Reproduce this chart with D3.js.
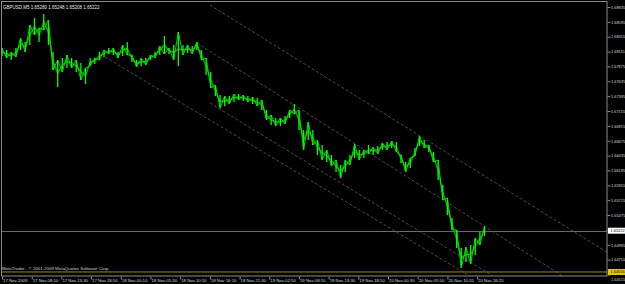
<!DOCTYPE html>
<html>
<head>
<meta charset="utf-8">
<script src="https://cdn.jsdelivr.net/npm/d3@7"></script>
<style>
body { margin: 0; background: #000; overflow: hidden; }
text { font-family: "Liberation Sans", Arial, sans-serif; }
</style>
</head>
<body>
<div id="chart"></div>
<script>
// header + footer text
var symbolLabel = "GBPUSD,M5  1.65280 1.65248 1.65208 1.65222";
var copyLabel = "MetaTrader - \u00a9 2001-2009 MetaQuotes Software Corp.";

// one sample every 10 bars (M5), high / low
var barStep = 10;
var highs = [1.68173,1.68141,1.68108,1.68173,1.68334,1.68270,1.68544,1.68657,1.68496,1.68722,
    1.68625,1.68108,1.67979,1.68011,1.68060,1.68011,1.67979,1.67931,1.67850,1.68011,
    1.68011,1.68108,1.68141,1.68173,1.68173,1.68108,1.68221,1.68270,1.68060,1.67979,
    1.68011,1.68011,1.68060,1.68108,1.68205,1.68367,1.68173,1.68221,1.68431,1.68221,
    1.68221,1.68205,1.68270,1.68141,1.68011,1.67785,1.67575,1.67414,1.67398,1.67398,
    1.67430,1.67430,1.67414,1.67398,1.67381,1.67365,1.67333,1.67172,1.67091,1.67042,
    1.67042,1.67075,1.67172,1.67268,1.67172,1.66849,1.66978,1.66849,1.66687,1.66606,
    1.66526,1.66445,1.66364,1.66283,1.66364,1.66445,1.66622,1.66526,1.66526,1.66606,
    1.66574,1.66590,1.66639,1.66655,1.66671,1.66655,1.66445,1.66332,1.66396,1.66558,
    1.66752,1.66687,1.66606,1.66493,1.66364,1.65960,1.65750,1.65427,1.65234,1.64943,
    1.64959,1.64991,1.65104,1.65201,1.65298];
var lows = [1.68044,1.68011,1.67979,1.68027,1.68141,1.68108,1.68221,1.68383,1.68270,1.68464,
    1.68221,1.67818,1.67543,1.67785,1.67850,1.67850,1.67785,1.67656,1.67591,1.67882,
    1.67914,1.67979,1.68027,1.68076,1.68060,1.68011,1.68044,1.68060,1.67947,1.67866,
    1.67882,1.67898,1.67979,1.68011,1.68060,1.68076,1.68076,1.67979,1.67882,1.68060,
    1.68092,1.68076,1.68141,1.67979,1.67737,1.67527,1.67398,1.67204,1.67236,1.67268,
    1.67301,1.67333,1.67317,1.67301,1.67268,1.67236,1.67172,1.67010,1.66929,1.66913,
    1.66913,1.66945,1.67042,1.67107,1.66849,1.66526,1.66687,1.66606,1.66445,1.66364,
    1.66332,1.66267,1.66170,1.66073,1.66170,1.66283,1.66396,1.66364,1.66396,1.66461,
    1.66445,1.66461,1.66526,1.66526,1.66558,1.66493,1.66316,1.66170,1.66235,1.66429,
    1.66590,1.66558,1.66493,1.66332,1.66041,1.65718,1.65476,1.65234,1.64943,1.64620,
    1.64717,1.64684,1.64830,1.64991,1.65137];

var priceTicks = [1.68835,1.68595,1.68355,1.68115,1.67875,1.67635,1.67395,1.67155,1.66915,1.66675,
    1.66435,1.66195,1.65955,1.65715,1.65475,1.65235,1.64995,1.64755,1.64515];

var timeLabels = ["17 Nov 2009","17 Nov 08:10","17 Nov 13:30","17 Nov 18:50","18 Nov 00:10",
    "18 Nov 05:30","18 Nov 10:50","18 Nov 16:10","18 Nov 21:30","19 Nov 02:50","19 Nov 08:10",
    "19 Nov 13:30","19 Nov 18:50","20 Nov 00:30","20 Nov 05:50","20 Nov 10:55","20 Nov 16:25"];
var timeStep = 64;
var totalBars = 1304;

var bidPrice = 1.65222;
var levelPrice = 1.64556;

// channel lines: [bar, price] -> [bar, price]
var channelLines = [
    [[448, 1.68867], [1303, 1.64878]],
    [[420, 1.68254], [1208, 1.64491]],
    [[448, 1.67285], [1058, 1.64491]],
    [[222, 1.68027], [1008, 1.64491]]
];

var W = 625, H = 284;
var plotRight = 607, plotBottom = 276;

var svg = d3.select("#chart").append("svg")
    .attr("width", W)
    .attr("height", H)
    .style("display", "block")
    .style("background", "#000");

var x = d3.scaleLinear().domain([0, totalBars]).range([2, plotRight]);
var y = d3.scaleLinear().domain([1.68835, 1.64515]).range([7, 274.5]);

svg.append("clipPath").attr("id", "plot-clip")
    .append("rect")
    .attr("x", 1).attr("y", 1)
    .attr("width", plotRight - 1).attr("height", plotBottom - 1);

var plot = svg.append("g").attr("clip-path", "url(#plot-clip)");

// level line (yellow) and bid line
plot.append("line")
    .attr("x1", 0).attr("x2", plotRight)
    .attr("y1", y(levelPrice)).attr("y2", y(levelPrice))
    .attr("stroke", "#a08a00").attr("stroke-width", 1);

plot.append("line")
    .attr("x1", 0).attr("x2", plotRight)
    .attr("y1", Math.round(y(bidPrice)) + 0.5).attr("y2", Math.round(y(bidPrice)) + 0.5)
    .attr("stroke", "#5f6b78").attr("stroke-width", 1);

// channel
plot.selectAll(".channel")
    .data(channelLines)
    .enter().append("line")
    .attr("class", "channel")
    .attr("x1", function(d){ return x(d[0][0]); })
    .attr("y1", function(d){ return y(d[0][1]); })
    .attr("x2", function(d){ return x(d[1][0]); })
    .attr("y2", function(d){ return y(d[1][1]); })
    .attr("stroke", "#6a6a6a")
    .attr("stroke-width", 0.7)
    .attr("stroke-dasharray", "3,2");

// price
var bars = highs.map(function(h, i){
    return {bar: i * barStep, high: h, low: lows[i]};
});

plot.append("path")
    .datum(bars)
    .attr("fill", "none")
    .attr("stroke", "#00a800")
    .attr("stroke-width", 1.4)
    .attr("d", d3.line()
        .x(function(d){ return x(d.bar); })
        .y(function(d){ return y((d.high + d.low) / 2); }));

plot.selectAll(".bar")
    .data(bars)
    .enter().append("line")
    .attr("class", "bar")
    .attr("x1", function(d){ return x(d.bar); })
    .attr("x2", function(d){ return x(d.bar); })
    .attr("y1", function(d){ return y(d.high); })
    .attr("y2", function(d){ return y(d.low); })
    .attr("stroke", "#00ff00")
    .attr("stroke-width", 1.3);

plot.append("path")
    .datum(bars)
    .attr("fill", "none")
    .attr("stroke", "#00f000")
    .attr("stroke-width", 0.9)
    .attr("d", d3.line()
        .x(function(d){ return x(d.bar); })
        .y(function(d, i){ return y(i % 2 ? d.low : d.high); }));

// frame
svg.append("rect")
    .attr("x", 1.5).attr("y", 1.5)
    .attr("width", plotRight - 1.5).attr("height", plotBottom - 1.5)
    .attr("fill", "none")
    .attr("stroke", "#8c8c8c")
    .attr("stroke-width", 1);

// price axis
var yAxis = d3.axisRight(y)
    .tickValues(priceTicks)
    .tickSize(3)
    .tickFormat(d3.format(".5f"));

var ya = svg.append("g")
    .attr("transform", "translate(" + (plotRight + 0.5) + ",0)")
    .call(yAxis);
ya.select(".domain").remove();
ya.selectAll("line").attr("stroke", "#8c8c8c");
ya.selectAll("text")
    .attr("x", 3.5)
    .attr("fill", "#d8d8d8")
    .style("font-size", "3.9px");
// last label sits under the level box in the terminal, nudge it below
ya.selectAll(".tick").filter(function(d){ return d === priceTicks[priceTicks.length - 1]; })
    .select("text").attr("y", 5);

// time axis
var xAxis = d3.axisBottom(x)
    .tickValues(timeLabels.map(function(t, i){ return i * timeStep; }))
    .tickSize(3)
    .tickFormat(function(d){ return timeLabels[d / timeStep]; });

var xa = svg.append("g")
    .attr("transform", "translate(0," + (plotBottom + 0.5) + ")")
    .call(xAxis);
xa.select(".domain").remove();
xa.selectAll("line").attr("stroke", "#8c8c8c");
xa.selectAll("text")
    .attr("text-anchor", "start")
    .attr("x", 0.5)
    .attr("y", 2.5)
    .attr("dy", "0.71em")
    .attr("fill", "#d8d8d8")
    .style("font-size", "4.3px");

// price boxes
function priceBox(p, bg, fg){
    var g = svg.append("g").attr("transform", "translate(" + (plotRight + 1) + "," + y(p) + ")");
    g.append("rect")
        .attr("x", 0).attr("y", -3)
        .attr("width", 17).attr("height", 6)
        .attr("fill", bg);
    g.append("text")
        .attr("x", 2.5).attr("y", 0)
        .attr("dy", "0.35em")
        .attr("fill", fg)
        .style("font-size", "3.9px")
        .text(d3.format(".5f")(p));
}
priceBox(bidPrice, "#ffffff", "#000000");
priceBox(levelPrice, "#e8c800", "#000000");

// labels
svg.append("text")
    .attr("x", 3).attr("y", 8.5)
    .attr("fill", "#e6e6e6")
    .style("font-size", "4.5px")
    .text(symbolLabel);

svg.append("text")
    .attr("x", 2).attr("y", 270)
    .attr("fill", "#cfcfcf")
    .style("font-size", "4.4px")
    .text(copyLabel);
</script>
</body>
</html>
